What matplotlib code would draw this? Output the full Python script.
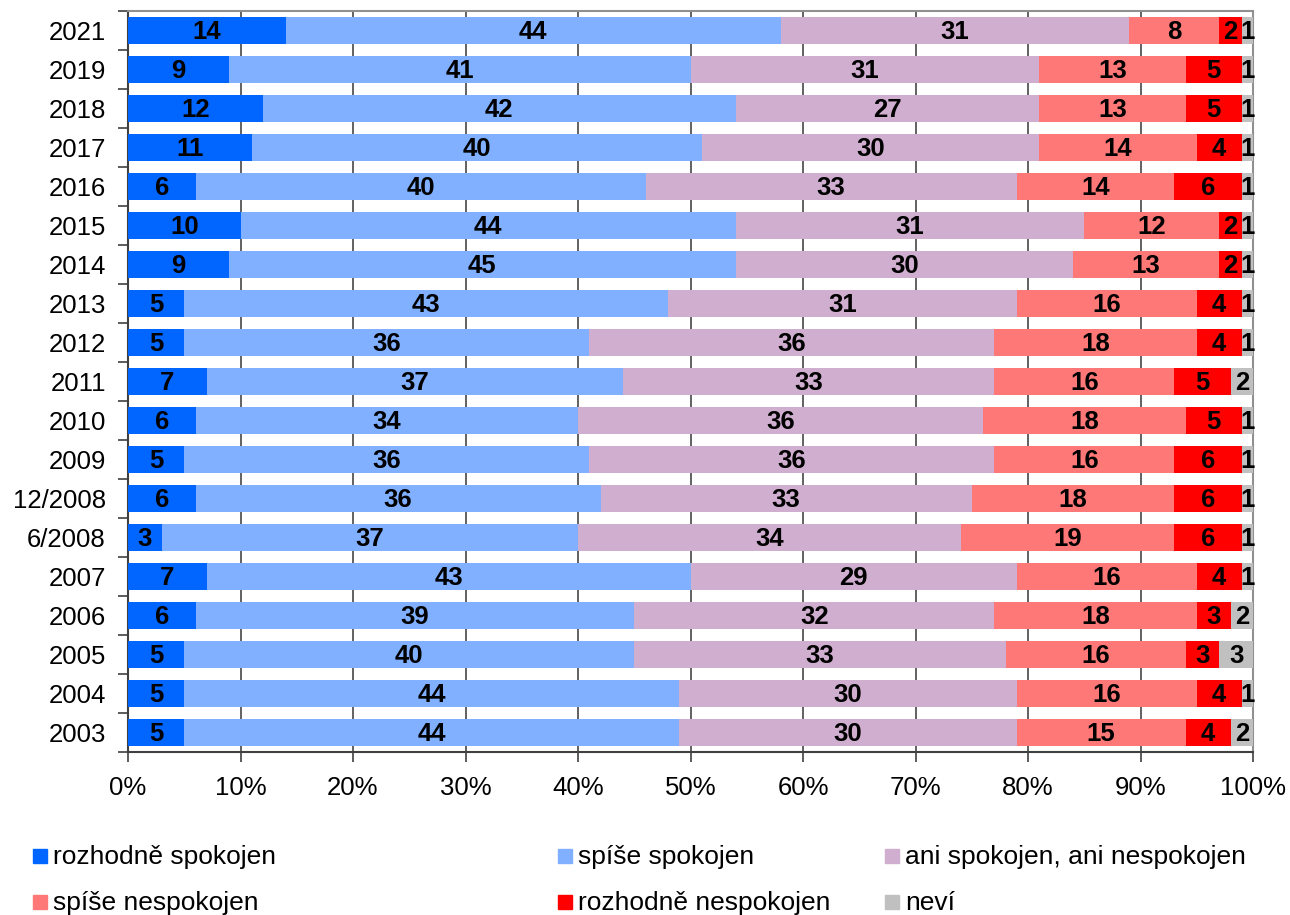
import matplotlib
matplotlib.use("Agg")
import matplotlib.pyplot as plt
import numpy as np
from matplotlib.patches import Rectangle

plt.rcParams['font.family'] = ['Liberation Sans', 'DejaVu Sans']

years = ["2021", "2019", "2018", "2017", "2016", "2015", "2014", "2013", "2012",
         "2011", "2010", "2009", "12/2008", "6/2008", "2007", "2006", "2005",
         "2004", "2003"]
series_names = ["rozhodně spokojen", "spíše spokojen", "ani spokojen, ani nespokojen",
                "spíše nespokojen", "rozhodně nespokojen", "neví"]
rozhodne_spokojen = [14, 9, 12, 11, 6, 10, 9, 5, 5, 7, 6, 5, 6, 3, 7, 6, 5, 5, 5]
spise_spokojen = [44, 41, 42, 40, 40, 44, 45, 43, 36, 37, 34, 36, 36, 37, 43, 39, 40, 44, 44]
ani_ani = [31, 31, 27, 30, 33, 31, 30, 31, 36, 33, 36, 36, 33, 34, 29, 32, 33, 30, 30]
spise_nespokojen = [8, 13, 13, 14, 14, 12, 13, 16, 18, 16, 18, 16, 18, 19, 16, 18, 16, 16, 15]
rozhodne_nespokojen = [2, 5, 5, 4, 6, 2, 2, 4, 4, 5, 5, 6, 6, 6, 4, 3, 3, 4, 4]
nevi = [1, 1, 1, 1, 1, 1, 1, 1, 1, 2, 1, 1, 1, 1, 1, 2, 3, 1, 2]

colors = ["#0066FF", "#80B0FF", "#D0AED0", "#FF7878", "#FF0000", "#C0C0C0"]

data = np.array([rozhodne_spokojen, spise_spokojen, ani_ani,
                 spise_nespokojen, rozhodne_nespokojen, nevi], dtype=float)
totals = data.sum(axis=0)
shares = data / totals

fig = plt.figure(figsize=(12.9, 9.15), dpi=100)
ax = fig.add_axes([128/1290, 1 - 752/915, (1253-128)/1290, (752-11)/915])

n = len(years)
y = np.arange(n)
left = np.zeros(n)
for i, (vals, sh) in enumerate(zip(data, shares)):
    ax.barh(y, sh, left=left, height=0.68, color=colors[i], zorder=3)
    for j in range(n):
        ax.text(left[j] + sh[j] / 2, y[j] + 0.03, f"{int(vals[j])}", ha='center', va='center',
                fontsize=18.5, fontweight='bold', color='black', zorder=4)
    left += sh

ax.set_xlim(0, 1)
ax.set_ylim(n - 0.5, -0.5)
ax.set_xticks(np.linspace(0, 1, 11))
ax.set_xticklabels([f"{k}%" for k in range(0, 101, 10)], fontsize=18.5)
ax.set_yticks(y)
ax.set_yticklabels(years, fontsize=18.5)
ax.tick_params(axis='y', length=0, pad=16)
ax.set_yticks(np.arange(-0.5, n, 1), minor=True)
ax.tick_params(axis='y', which='minor', length=7, width=1.2, color='#404040', direction='out')
ax.tick_params(axis='x', length=7, width=1.2, color='#404040', direction='out', pad=10)
ax.grid(axis='x', color='#555555', linewidth=1.3, zorder=0)
for s in ['left', 'bottom']:
    ax.spines[s].set_color('#404040')
    ax.spines[s].set_linewidth(1.5)
for s in ['top', 'right']:
    ax.spines[s].set_color('#909090')
    ax.spines[s].set_linewidth(1.5)

# legend
legend_pos = [(33, 856), (558, 856), (885, 856), (33, 902), (558, 902), (885, 902)]
for (px, py), name, c in zip(legend_pos, series_names, colors):
    fig.patches.append(Rectangle((px / 1290, 1 - (py + 7) / 915), 14 / 1290, 14 / 915,
                                 transform=fig.transFigure, color=c, figure=fig))
    fig.text((px + 20) / 1290, 1 - (py + 1) / 915, name, ha='left', va='center', fontsize=19)

fig.savefig("out.png", dpi=100)
